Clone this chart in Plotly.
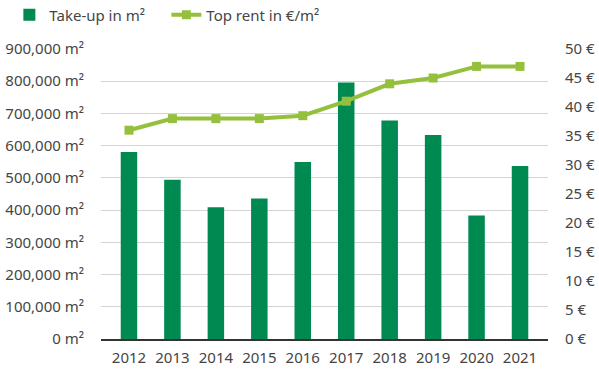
import plotly.graph_objects as go

years = ["2012", "2013", "2014", "2015", "2016", "2017", "2018", "2019", "2020", "2021"]
take_up = [580000, 494000, 409000, 436000, 549000, 796000, 678000, 633000, 383000, 537000]
top_rent = [36, 38, 38, 38, 38.5, 41, 44, 45, 47, 47]

left_ticks = [0, 100000, 200000, 300000, 400000, 500000, 600000, 700000, 800000, 900000]
left_labels = [f"{v:,} m²" for v in left_ticks]
right_ticks = [0, 5, 10, 15, 20, 25, 30, 35, 40, 45, 50]
right_labels = [f"{v} €" for v in right_ticks]

BAR = "#008A52"
LINE = "#95C03D"
TXT = "#454545"
FONT = "Noto Sans"

fig = go.Figure()
fig.add_trace(go.Bar(
    x=years, y=take_up, name="Take-up in m²",
    marker=dict(color=BAR, line=dict(width=0)),
    yaxis="y",
))
fig.add_trace(go.Scatter(
    x=years, y=top_rent, name="Top rent in €/m²",
    mode="lines+markers",
    line=dict(color=LINE, width=4),
    marker=dict(symbol="square", size=9, color=LINE),
    yaxis="y2",
))

fig.update_layout(
    width=599, height=369,
    margin=dict(l=100.6, r=50.6, t=49, b=30, pad=0, autoexpand=False),
    paper_bgcolor="white", plot_bgcolor="white",
    font=dict(family=FONT, size=15, color=TXT),
    bargap=0.62,
    showlegend=True,
    legend=dict(
        orientation="h", x=-0.205, xanchor="left", y=1.117, yanchor="middle",
        font=dict(family=FONT, size=15, color=TXT),
        bgcolor="rgba(0,0,0,0)", itemwidth=30, tracegroupgap=0,
        entrywidth=112, entrywidthmode="pixels",
    ),
    xaxis=dict(
        type="category", showgrid=False, showline=True, linecolor="#333333",
        linewidth=2, ticks="", tickfont=dict(size=15, color=TXT),
        ticklabelstandoff=4,
    ),
    yaxis=dict(
        range=[0, 900000], tickvals=left_ticks, ticktext=left_labels,
        showgrid=True, gridcolor="#D4D4D4", gridwidth=1, zeroline=False,
        ticks="", ticklabelstandoff=16, showline=False,
    ),
    yaxis2=dict(
        range=[0, 50], tickvals=right_ticks, ticktext=right_labels,
        overlaying="y", side="right", showgrid=False, zeroline=False,
        ticks="", ticklabelstandoff=16, showline=False,
    ),
)

fig.write_html("out.html", config={"displayModeBar": False},
               post_script="document.body.style.margin='0';")
